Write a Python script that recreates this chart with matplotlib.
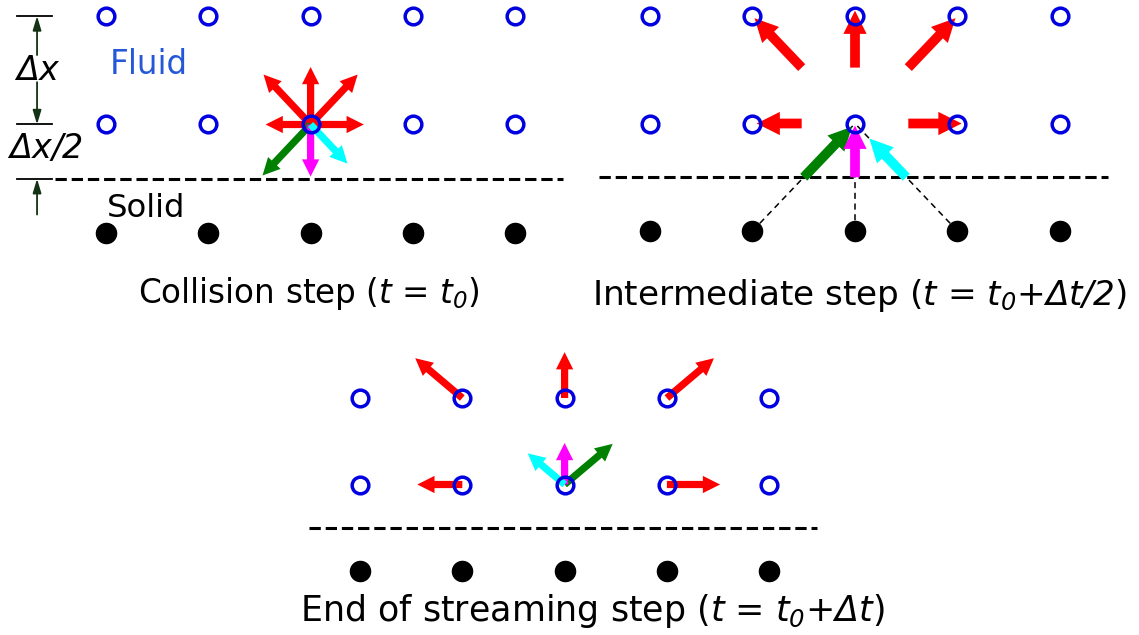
import numpy as np
import matplotlib
matplotlib.use('Agg')
from matplotlib import pyplot as plt

W, H = 1139, 635

# lattice (in lattice units): 5 columns, two fluid rows, one solid row, wall halfway
cols = [0, 1, 2, 3, 4]
fluid_rows = [1, 2]
solid_row = 0
wall_y = 0.5
wall_x = [-0.5, 4.47]
center = (2, 1)

# D2Q9 directions used in the sketch, with arrow magnitudes
red_dirs = [(-1, 0), (1, 0), (0, 1), (-1, 1), (1, 1)]
red_mag = [0.44, 0.52, 0.53, 0.46, 0.46]
wall_dirs = [(-1, -1), (0, -1), (1, -1)]      # they hit the wall and bounce back
wall_mag = [0.47, 0.48, 0.36]
wall_colors = ['green', 'magenta', 'cyan']

titles = [r'Collision step ($t$ = $t_0$)',
          r'Intermediate step ($t$ = $t_0$+$\Delta t/2$)',
          r'End of streaming step ($t$ = $t_0$+$\Delta t$)']


def panel_axes(fig, x0, y0, dx, dy):
    # axes over the whole figure, lattice node (i, j) lands at pixel (x0+i*dx, y0-j*dy)
    ax = fig.add_axes([0, 0, 1, 1])
    ax.set_xlim(-x0 / dx, (W - x0) / dx)
    ax.set_ylim((y0 - H) / dy, y0 / dy)
    ax.patch.set_alpha(0)
    ax.axis('off')
    return ax


def draw_lattice(ax):
    for j in fluid_rows:
        ax.plot(cols, [j] * len(cols), 'o', ms=12, mfc='none', mec='#0000e0',
                mew=2.5, zorder=5)
    ax.plot(cols, [solid_row] * len(cols), 'o', ms=14.5, color='black', zorder=5)
    ax.plot(wall_x, [wall_y, wall_y], '--', color='black', lw=2.2, zorder=1)


def arrow(ax, start, vec, color, scale=20):
    end = (start[0] + vec[0], start[1] + vec[1])
    ax.annotate('', xy=end, xytext=start,
                arrowprops=dict(arrowstyle='simple,head_length=0.62,head_width=0.62,tail_width=0.26',
                                color=color, shrinkA=0, shrinkB=0, mutation_scale=scale, lw=0),
                zorder=3)


# math parts all italic, digits and capital Delta included
plt.rcParams['mathtext.fontset'] = 'custom'
plt.rcParams['mathtext.rm'] = 'DejaVu Sans:italic'
plt.rcParams['mathtext.it'] = 'DejaVu Sans:italic'
plt.rcParams['mathtext.default'] = 'it'
fig = plt.figure(figsize=(W / 100, H / 100), dpi=100)

# --- collision step
ax1 = panel_axes(fig, 106, 233, 102.3, 108.5)
draw_lattice(ax1)
for c, m in zip(red_dirs, red_mag):
    arrow(ax1, center, (m * c[0], m * c[1]), 'red')
for c, m, col in zip(wall_dirs, wall_mag, wall_colors):
    arrow(ax1, center, (m * c[0], m * c[1]), col)

dim_col = '#143214'
for j in [2, 1, 0.5]:
    ax1.plot([-0.87, -0.53], [j, j], color='black', lw=1.3)
dim_arrows = [((-0.674, 1.64), (-0.674, 2.0)),
              ((-0.674, 1.39), (-0.674, 1.0)),
              ((-0.674, 0.17), (-0.674, 0.5))]
for s, e in dim_arrows:
    ax1.annotate('', xy=e, xytext=s,
                 arrowprops=dict(arrowstyle='-|>,head_length=0.6,head_width=0.18',
                                 color=dim_col, lw=1.3, shrinkA=0, shrinkB=0,
                                 mutation_scale=14))
ax1.text(-0.665, 1.50, r'$\Delta x$', fontsize=24, ha='center', va='center')
ax1.text(-0.60, 0.78, r'$\Delta x/2$', fontsize=24, ha='center', va='center')
ax1.text(0.04, 1.55, 'Fluid', fontsize=23.5, color='#2558d8', ha='left', va='center')
ax1.text(0.01, 0.23, 'Solid', fontsize=23.3, color='black', ha='left', va='center')

# --- intermediate step
ax2 = panel_axes(fig, 650, 231, 102.5, 107.5)
draw_lattice(ax2)
for c in wall_dirs:
    ax2.plot([center[0] + c[0], center[0]], [center[1] + c[1], center[1]],
             color='black', lw=1.1, ls=(0, (4, 3)), zorder=2)
for c, m in zip(red_dirs, red_mag):
    start = (center[0] + 0.52 * c[0], center[1] + 0.52 * c[1])
    arrow(ax2, start, (m * c[0], m * c[1]), 'red', scale=27)
for c, m, col in zip(wall_dirs, wall_mag, wall_colors):
    start = (center[0] + 0.5 * c[0], center[1] + 0.5 * c[1])
    arrow(ax2, start, (-m * c[0], -m * c[1]), col, scale=27)

# --- end of streaming step
ax3 = panel_axes(fig, 360, 571, 102.3, 86.5)
draw_lattice(ax3)
for c, m in zip(red_dirs, red_mag):
    start = (center[0] + c[0], center[1] + c[1])
    arrow(ax3, start, (m * c[0], m * c[1]), 'red')
for c, m, col in zip(wall_dirs, wall_mag, wall_colors):
    arrow(ax3, center, (-m * c[0], -m * c[1]), col)

title_pos = [(309, 293), (859, 295), (592, 611)]
title_size = [23.5, 24.7, 25.1]
for t, (px, py), fs in zip(titles, title_pos, title_size):
    fig.text(px / W, 1 - py / H, t, fontsize=fs, ha='center', va='center')

plt.savefig('out.png', dpi=100)
